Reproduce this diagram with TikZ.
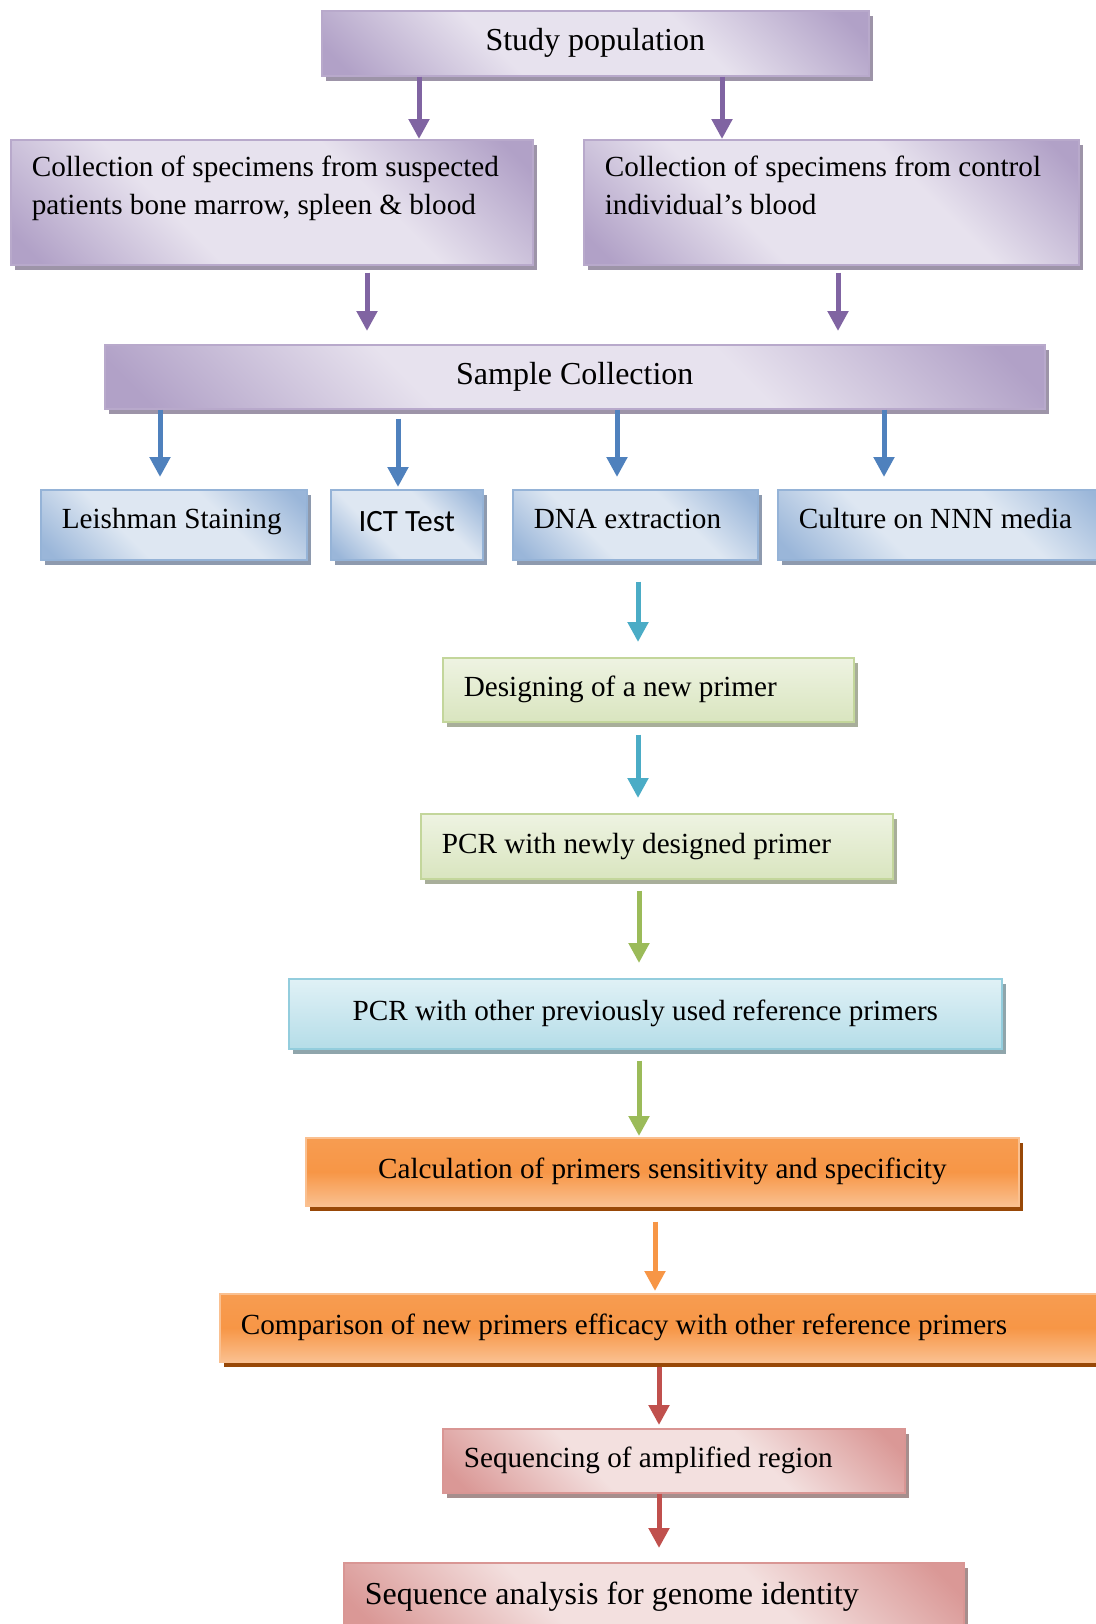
\documentclass[tikz,border=0pt]{standalone}
\usepackage{fontspec}
\setmainfont{Liberation Serif}
\newfontfamily\ictfont{Carlito}
\usetikzlibrary{arrows.meta,shadows}

\tikzset{>=latex}
\definecolor{mypurple}{HTML}{8064A2}
\definecolor{mypurplelight}{HTML}{E7E2EE}
\definecolor{mypurpledark}{HTML}{B1A1C7}
\definecolor{mypurpleline}{HTML}{B8A9CB}
\definecolor{mypurpleshadow}{HTML}{9D94A8}
\definecolor{myblue}{HTML}{4F81BD}
\definecolor{mybluelight}{HTML}{DEE7F2}
\definecolor{mybluedark}{HTML}{9AB6D9}
\definecolor{mybluelinecol}{HTML}{95B3D7}
\definecolor{myblueshadow}{HTML}{8E9AAE}
\definecolor{myteal}{HTML}{4BACC6}
\definecolor{mygreen}{HTML}{9BBB59}
\definecolor{mygreenlight}{HTML}{EEF3E2}
\definecolor{mygreendark}{HTML}{D9E5BF}
\definecolor{mygreenline}{HTML}{C3D69B}
\definecolor{mygreenshadow}{HTML}{A8AE9A}
\definecolor{mycyanlight}{HTML}{E0F1F6}
\definecolor{mycyandark}{HTML}{B5DDE8}
\definecolor{mycyanline}{HTML}{93CDDD}
\definecolor{mycyanshadow}{HTML}{8FA5AB}
\definecolor{myorange}{HTML}{F79646}
\definecolor{myorangelight}{HTML}{FAC090}
\definecolor{myorangeshadow}{HTML}{984807}
\definecolor{myred}{HTML}{C0504D}
\definecolor{myredlight}{HTML}{F3E0DF}
\definecolor{myreddark}{HTML}{DA9896}
\definecolor{myredline}{HTML}{D99694}
\definecolor{myredshadow}{HTML}{A68E8D}
\pgfdeclareverticalshading{purpleshade}{100bp}{color(0bp)=(mypurpledark); color(18bp)=(mypurpledark);
  color(38bp)=(mypurplelight); color(62bp)=(mypurplelight); color(82bp)=(mypurpledark); color(100bp)=(mypurpledark)}
\pgfdeclareverticalshading{blueshade}{100bp}{color(0bp)=(mybluedark); color(18bp)=(mybluedark);
  color(38bp)=(mybluelight); color(62bp)=(mybluelight); color(82bp)=(mybluedark); color(100bp)=(mybluedark)}
\pgfdeclareverticalshading{redshade}{100bp}{color(0bp)=(myreddark); color(18bp)=(myreddark);
  color(38bp)=(myredlight); color(62bp)=(myredlight); color(82bp)=(myreddark); color(100bp)=(myreddark)}
\tikzstyle{box}=[rectangle,anchor=north west,inner xsep=10.5pt,inner ysep=0pt,line width=0.8pt,
  align=flush left,font=\fontsize{14.6}{19}\selectfont]
\tikzstyle{bigtext}=[font=\fontsize{16}{20}\selectfont]
\tikzstyle{purplebox}=[box,draw=mypurpleline,shade,shading=purpleshade,shading angle=-45,
  drop shadow={shadow xshift=2pt,shadow yshift=-2.5pt,fill=mypurpleshadow,opacity=1}]
\tikzstyle{bluebox}=[box,draw=mybluelinecol,shade,shading=blueshade,shading angle=-45,
  text height=9pt,text depth=5.5pt,
  drop shadow={shadow xshift=2pt,shadow yshift=-2.5pt,fill=myblueshadow,opacity=1}]
\tikzstyle{greenbox}=[box,draw=mygreenline,top color=mygreenlight,bottom color=mygreendark,
  drop shadow={shadow xshift=2pt,shadow yshift=-2.5pt,fill=mygreenshadow,opacity=1}]
\tikzstyle{cyanbox}=[box,draw=mycyanline,top color=mycyanlight,bottom color=mycyandark,
  drop shadow={shadow xshift=2pt,shadow yshift=-2.5pt,fill=mycyanshadow,opacity=1}]
\tikzstyle{orangebox}=[box,draw=myorangelight,top color=myorange!85!myorangelight,bottom color=myorangelight,
  middle color=myorange,
  drop shadow={shadow xshift=2pt,shadow yshift=-2.5pt,fill=myorangeshadow,opacity=1}]
\tikzstyle{redbox}=[box,draw=myredline,shade,shading=redshade,shading angle=-45,
  drop shadow={shadow xshift=2pt,shadow yshift=-2.5pt,fill=myredshadow,opacity=1}]
\tikzstyle{flow}=[line width=2.5pt,-{Triangle[width=10pt,length=10pt]}]

\begin{document}
\begin{tikzpicture}[x=0.5pt,y=-0.5pt]
  \useasboundingbox (0,0) rectangle (1096,1624);
  % ARROW COLUMNS
  \coordinate (sL) at (419,0);
  \coordinate (sR) at (722,0);
  \coordinate (cL) at (367,0);
  \coordinate (cR) at (838,0);
  \coordinate (t1) at (160,0);
  \coordinate (t2) at (398,0);
  \coordinate (t3) at (617,0);
  \coordinate (t4) at (884,0);
  \coordinate (m1) at (638,0);
  \coordinate (m2) at (639,0);
  \coordinate (m3) at (655,0);
  \coordinate (m4) at (659,0);
  
  % COLLECTION
  \node[purplebox,bigtext,align=center,minimum width=273.5pt,minimum height=32.5pt] (study) at (321,10)
    {Study population};
  \node[purplebox,text width=240pt,text height=11pt,text depth=36.5pt,inner ysep=7.5pt] (susp) at (10,139)
    {Collection of specimens from suspected\\patients bone marrow, spleen \& blood};
  \node[purplebox,text width=226.5pt,text height=11pt,text depth=36.5pt,inner ysep=7.5pt] (ctrl) at (583,139)
    {Collection of specimens from control\\individual’s blood};
  \node[purplebox,bigtext,align=center,minimum width=470pt,minimum height=32pt] (sample) at (104,344)
    {Sample Collection};
  
  % TESTS
  \node[bluebox,text width=112pt,minimum height=35pt] (leish) at (40,489) {Leishman Staining};
  \node[bluebox,align=center,minimum width=76pt,minimum height=35pt,text height=11pt,text depth=4.5pt,
    font=\ictfont\fontsize{15.5}{20}\selectfont] (ict) at (330,489) {ICT Test};
  \node[bluebox,text width=101.5pt,minimum height=35pt] (dna) at (512,489) {DNA extraction};
  \node[bluebox,text width=145pt,minimum height=35pt] (culture) at (777,489) {Culture on NNN media};
  
  % PRIMERS
  \node[greenbox,text width=184.5pt,minimum height=32pt] (design) at (442,657) {Designing of a new primer};
  \node[greenbox,text width=215pt,minimum height=32.5pt] (pcrnew) at (420,813) {PCR with newly designed primer};
  \node[cyanbox,align=center,minimum width=356.5pt,minimum height=35pt] (pcrold) at (288,978)
    {PCR with other previously used reference primers};
  \node[orangebox,align=center,minimum width=356.5pt,minimum height=34pt] (calc) at (305,1137)
    {Calculation of primers sensitivity and specificity};
  \node[orangebox,text width=424pt,minimum height=34pt] (comp) at (219,1293)
    {Comparison of new primers efficacy with other reference primers};
  \node[redbox,text width=210pt,minimum height=32pt] (seqamp) at (442,1428) {Sequencing of amplified region};
  \node[redbox,bigtext,text width=289pt,minimum height=34pt] (seqana) at (343,1562)
    {Sequence analysis for genome identity};
  
  % ARROWS
  \draw[flow,mypurple] (study.south -| sL) -- (susp.north -| sL);
  \draw[flow,mypurple] (study.south -| sR) -- (ctrl.north -| sR);
  \draw[flow,mypurple,shorten <=3.5pt,shorten >=6.5pt] (susp.south -| cL) -- (sample.north -| cL);
  \draw[flow,mypurple,shorten <=3.5pt,shorten >=6.5pt] (ctrl.south -| cR) -- (sample.north -| cR);
  \draw[flow,myblue,shorten >=6pt] (sample.south -| t1) -- (leish.north -| t1);
  \draw[flow,myblue,shorten <=4.5pt,shorten >=1pt] (sample.south -| t2) -- (ict.north -| t2);
  \draw[flow,myblue,shorten >=6pt] (sample.south -| t3) -- (dna.north -| t3);
  \draw[flow,myblue,shorten >=6pt] (sample.south -| t4) -- (culture.north -| t4);
  \draw[flow,myteal,shorten <=10.5pt,shorten >=7.5pt] (dna.south -| m1) -- (design.north -| m1);
  \draw[flow,myteal,shorten <=6pt,shorten >=7.5pt] (design.south -| m1) -- (pcrnew.north -| m1);
  \draw[flow,mygreen,shorten <=5.5pt,shorten >=7.5pt] (pcrnew.south -| m2) -- (pcrold.north -| m2);
  \draw[flow,mygreen,shorten <=5.5pt,shorten >=0.5pt] (pcrold.south -| m2) -- (calc.north -| m2);
  \draw[flow,myorange,shorten <=7.5pt,shorten >=1pt] (calc.south -| m3) -- (comp.north -| m3);
  \draw[flow,myred,shorten <=2pt,shorten >=1.5pt] (comp.south -| m4) -- (seqamp.north -| m4);
  \draw[flow,myred,shorten >=7pt] (seqamp.south -| m4) -- (seqana.north -| m4);
  
\end{tikzpicture}
\end{document}
